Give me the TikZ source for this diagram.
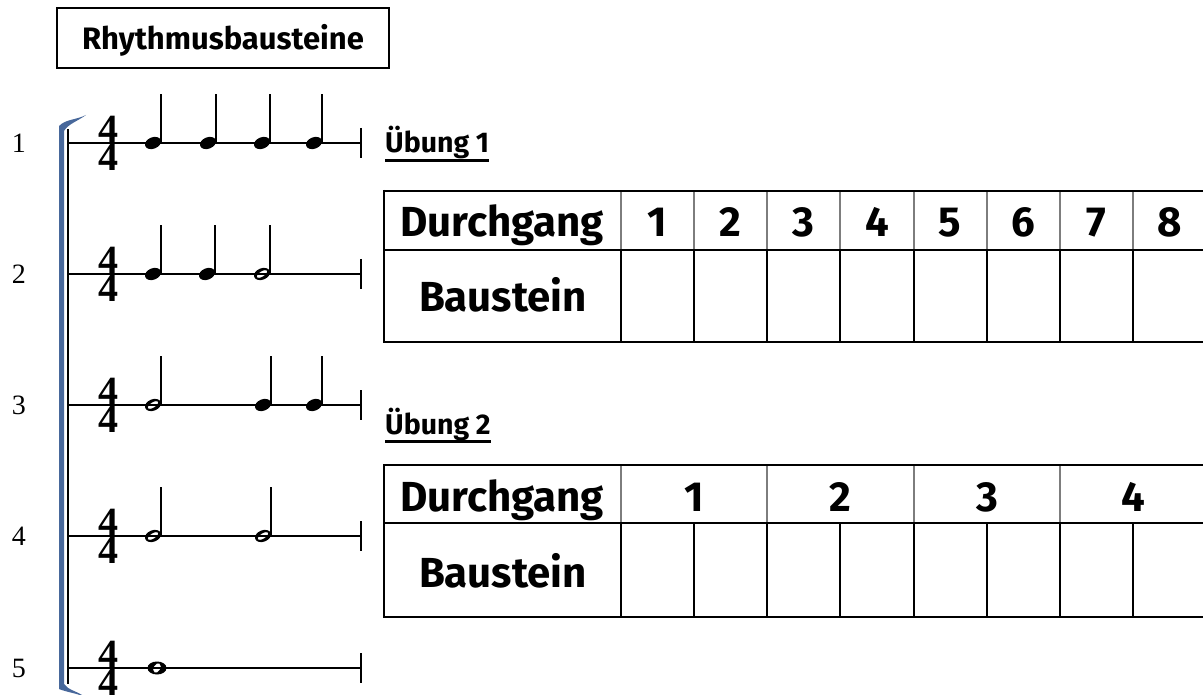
\documentclass[tikz,border=0pt]{standalone}
\usepackage{fontspec}
\setmainfont{Fira Sans}
\newfontfamily\serifnum{Liberation Serif}
\usetikzlibrary{positioning,calc}

\definecolor{bracketblue}{RGB}{72,104,155}
\definecolor{headgray}{RGB}{125,125,125}

\tikzset{
  staffline/.style={line width=1.3pt},
  barline/.style={line width=2pt},
  stemline/.style={line width=1.4pt},
  tablerule/.style={line width=2.2pt},
  cellline/.style={line width=1.6pt},
  headline/.style={line width=1.1pt, headgray},
  celltext/.style={font=\fontsize{42}{44}\selectfont\bfseries, inner sep=0pt, anchor=base},
  exercise/.style={font=\fontsize{28.5}{30}\selectfont\bfseries, inner sep=0pt, anchor=base west},
  rownum/.style={font=\serifnum\fontsize{28}{30}\selectfont, inner sep=0pt},
  meter/.style={font=\serifnum\bfseries\fontsize{40}{40}\selectfont, inner sep=0pt}
}

% notes: #1 = x, #2 = y of the staff line
\newcommand{\quarternote}[2]{
  \fill (#1,#2) ellipse [x radius=8.3pt, y radius=5.7pt, rotate=22];
  \draw[stemline] (#1+8,#2) -- (#1+8,#2-49);
}
\newcommand{\halfnote}[2]{
  \fill[even odd rule] (#1,#2) ellipse [x radius=8.3pt, y radius=5.7pt, rotate=22]
    (#1,#2) ellipse [x radius=6.2pt, y radius=2.6pt, rotate=32];
  \draw[stemline] (#1+8,#2) -- (#1+8,#2-49);
}
\newcommand{\wholenote}[2]{
  \fill[even odd rule] (#1,#2) ellipse [x radius=9.5pt, y radius=6.5pt]
    (#1,#2) ellipse [x radius=3.4pt, y radius=5pt, rotate=-30];
}

\begin{document}
\begin{tikzpicture}[x=1pt,y=-1pt]
    \useasboundingbox (0,0) rectangle (1203,695);
    \clip (0,0) rectangle (1203,695);

    % title
    \node[draw, line width=1.3pt, minimum width=332pt, minimum height=60pt] (titlebox) at (223,38) {};
    \node[font=\fontsize{31}{33}\selectfont\bfseries, inner sep=0pt, anchor=base] (title) at (223,50) {Rhythmusbausteine};

    % bracket
    \fill[bracketblue] (59,126) .. controls (66,119) and (76,120) .. (86,115)
      .. controls (78,121) and (68,124) .. (64,131) -- (64,684)
      .. controls (68,690) and (77,691) .. (85,697)
      .. controls (76,693) and (66,692) .. (59,689) -- cycle;
    \draw[line width=1.5pt] (68,129) -- (68,684);

    % staves
    \foreach \i/\y in {1/143,2/274,3/405,4/536,5/668}{
      \node[rownum] (num\i) at (19,\y) {\i};
      \draw[staffline] (68,\y) -- (361,\y);
      \draw[barline] (361,\y-15) -- (361,\y+15);
      \node[meter, anchor=south] (top\i) at (108.5,\y-0.5) {4};
      \node[meter, anchor=north] (bot\i) at (108.5,\y+0.5) {4};
    }

    \quarternote{153}{143}
    \quarternote{208}{143}
    \quarternote{262}{143}
    \quarternote{314}{143}

    \quarternote{153}{274}
    \quarternote{207}{274}
    \halfnote{262}{274}

    \halfnote{153}{405}
    \quarternote{263}{405}
    \quarternote{314}{405}

    \halfnote{153}{536}
    \halfnote{263}{536}

    \wholenote{157}{668}

    % Uebung 1
    \node[exercise] (ex1) at (385,153) {Übung 1};
    \draw[line width=2.5pt] ([yshift=-7.5pt]ex1.base west) -- ([yshift=-7.5pt]ex1.base east);

    \foreach \x in {621,694,767,840,914,987,1060,1133}{
      \draw[headline] (\x,191) -- (\x,250);
      \draw[cellline] (\x,250) -- (\x,342);
    }
    \draw[tablerule] (384,191) -- (1210,191);
    \draw[tablerule] (384,250) -- (1210,250);
    \draw[tablerule] (384,342) -- (1210,342);
    \draw[line width=2pt] (384,190) -- (384,343);
    \node[celltext] (pass1) at (502,237) {Durchgang};
    \node[celltext] (brick1) at (503,312) {Baustein};
    \foreach \n/\x in {1/657,2/730,3/803,4/877,5/950,6/1023,7/1096,8/1170}{
      \node[celltext] (pa\n) at (\x,237) {\n};
    }

    % Uebung 2
    \node[exercise] (ex2) at (385,434) {Übung 2};
    \draw[line width=2.5pt] ([yshift=-7.5pt]ex2.base west) -- ([yshift=-7.5pt]ex2.base east);

    \foreach \x in {621,767,914,1060}{
      \draw[headline] (\x,465) -- (\x,523);
    }
    \foreach \x in {621,694,767,840,914,987,1060,1133}{
      \draw[cellline] (\x,523) -- (\x,617);
    }
    \draw[tablerule] (384,465) -- (1210,465);
    \draw[tablerule] (384,523) -- (1210,523);
    \draw[tablerule] (384,617) -- (1210,617);
    \draw[line width=2pt] (384,464) -- (384,618);
    \node[celltext] (pass2) at (502,511) {Durchgang};
    \node[celltext] (brick2) at (503,587) {Baustein};
    \foreach \n/\x in {1/694,2/840,3/987,4/1133}{
      \node[celltext] (pb\n) at (\x,511) {\n};
    }
\end{tikzpicture}
\end{document}
